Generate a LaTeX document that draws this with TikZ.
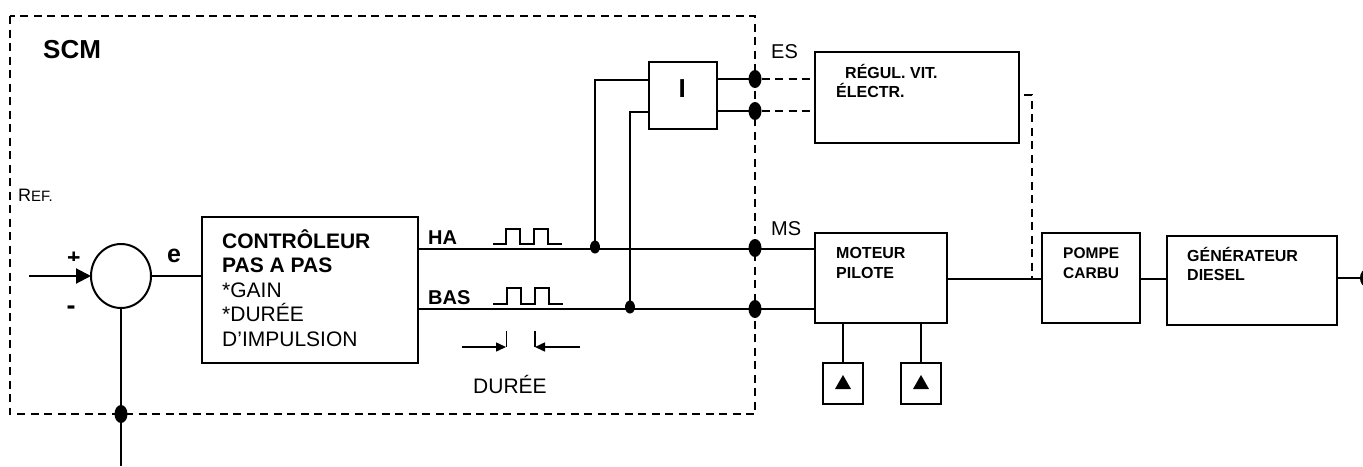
\documentclass[tikz,border=0pt]{standalone}
\usepackage{fontspec}
\setmainfont{Liberation Sans}
\usetikzlibrary{shapes.geometric,arrows.meta,calc}
\newcommand{\fs}[1]{\fontsize{#1}{#1}\selectfont}
\tikzset{
  line/.style={line width=2pt,black},
  dashline/.style={line width=2pt,black,dash pattern=on 8pt off 5.5pt},
  blockbox/.style={draw=black,line width=2pt,rectangle,inner sep=0pt,outer sep=0pt,anchor=north west},
  bigdot/.style={ellipse,fill=black,inner sep=0pt,outer sep=0pt,minimum width=13pt,minimum height=18pt},
  smalldot/.style={ellipse,fill=black,inner sep=0pt,outer sep=0pt,minimum width=10pt,minimum height=13pt},
  lbl/.style={anchor=base west,inner sep=0pt,text=black},
  tip/.style={-{Triangle[length=10pt,width=9pt]}},
  tipbig/.style={-{Triangle[length=15pt,width=15pt]}},
}
\begin{document}
\begin{tikzpicture}[x=1pt,y=-1pt]
\useasboundingbox (0,0) rectangle (1363,466);
% outer dashed frame
\draw[dashline] (10,16) rectangle (755,414);
% blocks
\node[draw=black,line width=2pt,ellipse,inner sep=0pt,outer sep=0pt,minimum width=60pt,minimum height=64pt] (sum) at (121,276) {};
\node[blockbox,minimum width=216pt,minimum height=146pt] (ctrl) at (202,217) {};
\node[blockbox,minimum width=68pt,minimum height=67pt] (int) at (649,62) {};
\node[blockbox,minimum width=204pt,minimum height=91pt] (reg) at (815,52) {};
\node[blockbox,minimum width=132pt,minimum height=90pt] (mot) at (815,233) {};
\node[blockbox,minimum width=98pt,minimum height=90pt] (pom) at (1042,233) {};
\node[blockbox,minimum width=170pt,minimum height=89pt] (gen) at (1167,236) {};
\node[blockbox,minimum width=40pt,minimum height=41pt] (sa) at (823,363) {};
\node[blockbox,minimum width=40pt,minimum height=41pt] (sb) at (901,363) {};
% triangles in small boxes
\fill[black] (843,375) -- (851,389) -- (835,389) -- cycle;
\fill[black] (921,375) -- (929,389) -- (913,389) -- cycle;
% dots
\node[bigdot] (d1) at (755,79) {};
\node[bigdot] (d2) at (755,111) {};
\node[bigdot] (d3) at (755,248) {};
\node[bigdot] (d4) at (755,309) {};
\node[bigdot] (d5) at (121,414) {};
\node[bigdot] (d6) at (1366.5,278) {};
\node[smalldot] (j1) at (595,247) {};
\node[smalldot] (j2) at (630,307) {};
% free ends
\coordinate (in) at (29,276);
\coordinate (fb) at (121,466);
% connectors
\draw[line,tipbig] (in) -- (sum.west);
\draw[line] (sum.south) -- (d5.center) -- (fb);
\draw[line] (sum.east) -- (sum.east -| ctrl.west);
\draw[line] (ctrl.east |- 0,249) -- (d3.center |- 0,249);
\draw[line] (ctrl.east |- 0,309) -- (d4.center);
\draw[line] (j1.center) -- (595,80) -- (int.west |- 0,80);
\draw[line] (j2.center) -- (630,112) -- (int.west |- 0,112);
\draw[line] (int.east |- d1) -- (d1.center);
\draw[line] (int.east |- d2) -- (d2.center);
\draw[dashline] (d1.east) -- (d1 -| reg.west);
\draw[dashline] (d2.east) -- (d2 -| reg.west);
\draw[line] (d3.center |- 0,249) -- (mot.west |- 0,249);
\draw[line] (d4.center) -- (d4 -| mot.west);
\draw[line] (mot.east |- 0,279) -- (pom.west |- 0,279);
\draw[line] (pom.east |- 0,279) -- (gen.west |- 0,279);
\draw[line] (gen.east |- d6) -- (d6.center);
\draw[dashline] (1024,95) -- (1032,95) -- (1032,279);
\draw[line] (sa.north |- mot.south) -- (sa.north);
\draw[line] (sb.north |- mot.south) -- (sb.north);
% pulses
\draw[line width=1.5pt] (493,244) -- (506,244) -- (506,229) -- (520,229) -- (520,244) -- (534,244) -- (534,229) -- (548,229) -- (548,244) -- (562,244);
\draw[line width=1.5pt] (493,304) -- (507,304) -- (507,288) -- (521,288) -- (521,304) -- (535,304) -- (535,288) -- (549,288) -- (549,304) -- (563,304);
% duration marks
\draw[line width=1.5pt,tip] (462,347) -- (506,347);
\draw[line width=1.5pt] (506.5,331) -- (506.5,347);
\draw[line width=1.5pt,tip] (580,347) -- (535,347);
\draw[line width=1.5pt] (535,331) -- (535,347);
% signs
\begin{scope}
\clip (60,240) rectangle (90,260);
\node[lbl,font=\bfseries\fs{23}] (plus) at (67,265.6) {+};
\end{scope}
\node[lbl,font=\bfseries\fs{27}] (minus) at (66.5,314) {-};
% texts
\node[lbl,font=\bfseries\fs{26}] (tscm) at (43,58) {SCM};
\node[lbl,font=\fs{18}] (tref) at (18,201) {R{\fs{15}EF.}};
\node[lbl,font=\bfseries\fs{25}] (te) at (167,262) {e};
\node[lbl,font=\bfseries\fs{21}] (t1) at (222,248) {CONTRÔLEUR};
\node[lbl,font=\bfseries\fs{21}] (t2) at (222,272) {PAS A PAS};
\node[lbl,font=\fs{21}] (t3) at (222,297) {*GAIN};
\node[lbl,font=\fs{21}] (t4) at (222,321) {*DURÉE};
\node[lbl,font=\fs{21}] (t5) at (222,346) {D’IMPULSION};
\node[lbl,font=\bfseries\fs{20}] (tha) at (428,244) {HA};
\node[lbl,font=\bfseries\fs{20}] (tbas) at (428,304) {BAS};
\node[lbl,font=\fs{21}] (tdur) at (473,393) {DURÉE};
\node[lbl,font=\fs{20}] (tes) at (771,58) {ES};
\node[lbl,font=\fs{20}] (tms) at (771,235) {MS};
\node[lbl,font=\bfseries\fs{26}] (ti) at (678.5,97) {I};
\node[lbl,font=\bfseries\fs{16}] (tr1) at (845,78) {RÉGUL. VIT.};
\node[lbl,font=\bfseries\fs{16}] (tr2) at (836,97) {ÉLECTR.};
\node[lbl,font=\bfseries\fs{16}] (tm1) at (836,258) {MOTEUR};
\node[lbl,font=\bfseries\fs{16}] (tm2) at (836,278) {PILOTE};
\node[lbl,font=\bfseries\fs{15.5}] (tp1) at (1063,258) {POMPE};
\node[lbl,font=\bfseries\fs{15.5}] (tp2) at (1063,278) {CARBU};
\node[lbl,font=\bfseries\fs{16}] (tg1) at (1187,261) {GÉNÉRATEUR};
\node[lbl,font=\bfseries\fs{16}] (tg2) at (1187,280) {DIESEL};
\end{tikzpicture}
\end{document}
